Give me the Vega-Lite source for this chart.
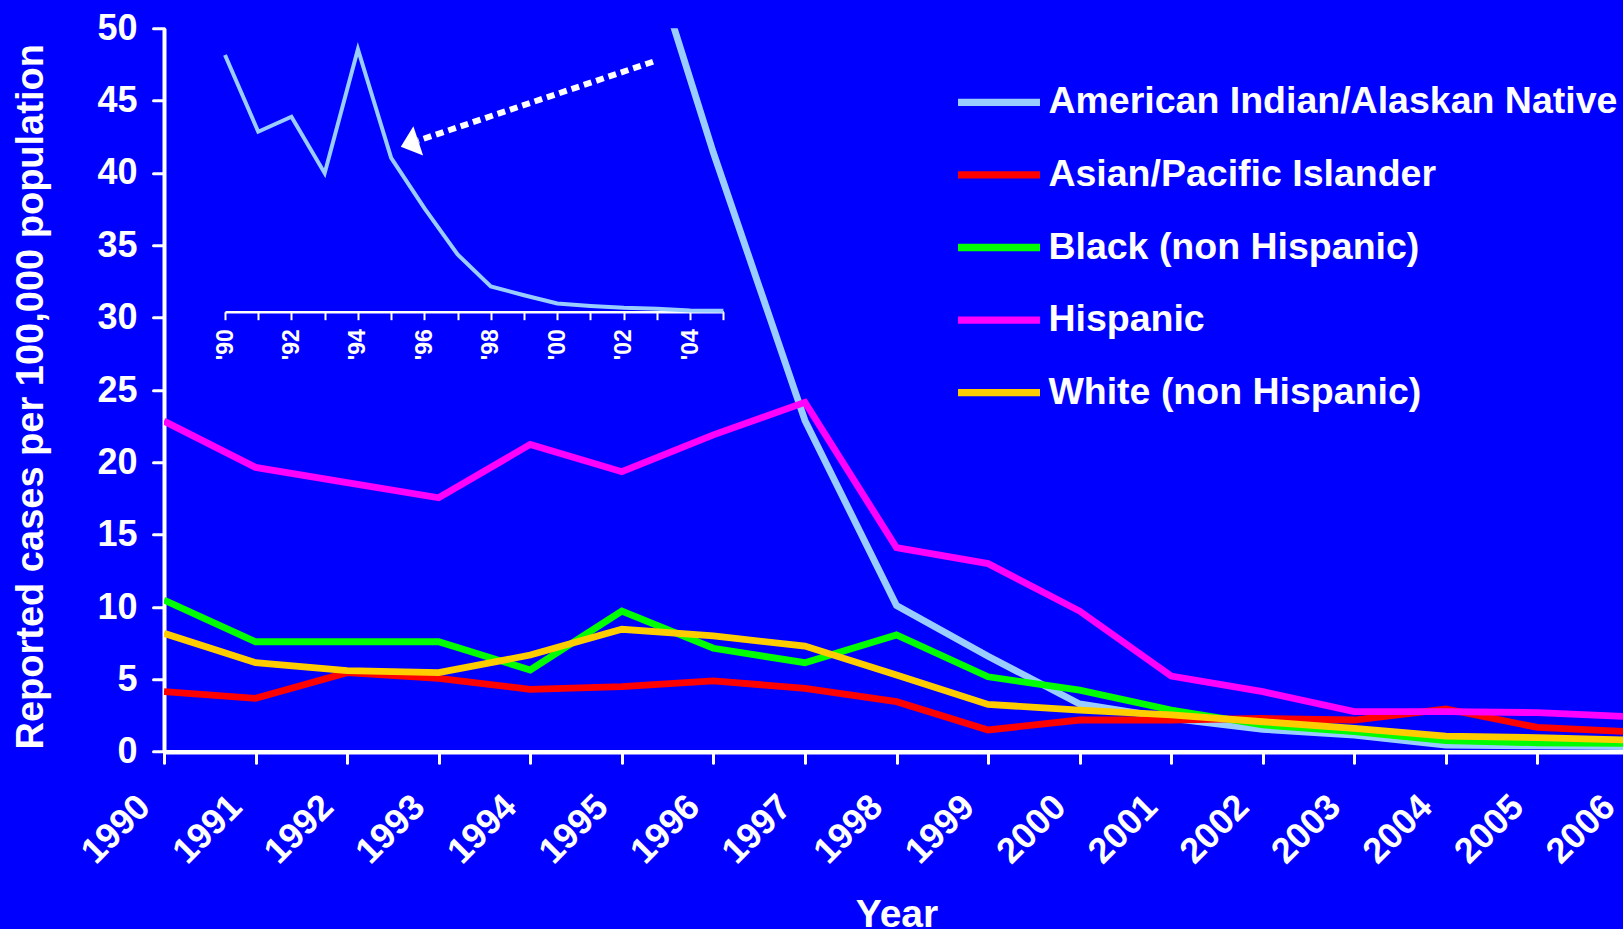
{
  "$schema": "https://vega.github.io/schema/vega-lite/v6.json",
  "width": 1459,
  "height": 723.4,
  "autosize": "none",
  "padding": {"left": 164, "top": 28.3, "right": 0, "bottom": 177.3},
  "background": "#0000FF",
  "config": {
    "view": {"stroke": null},
    "font": "Liberation Sans",
    "axis": {
      "grid": false,
      "domainColor": "white",
      "tickColor": "white",
      "labelColor": "white",
      "titleColor": "white",
      "labelFontWeight": "bold",
      "titleFontWeight": "bold",
      "labelOverlap": false,
      "labelFlush": false,
      "labelBound": false
    }
  },
  "datasets": {
    "rates": [
      {"group": "American Indian/Alaskan Native", "year": 1990, "rate": 102.7},
      {"group": "American Indian/Alaskan Native", "year": 1991, "rate": 72},
      {"group": "American Indian/Alaskan Native", "year": 1992, "rate": 78},
      {"group": "American Indian/Alaskan Native", "year": 1993, "rate": 55.4},
      {"group": "American Indian/Alaskan Native", "year": 1994, "rate": 105},
      {"group": "American Indian/Alaskan Native", "year": 1995, "rate": 61.5},
      {"group": "American Indian/Alaskan Native", "year": 1996, "rate": 41.4},
      {"group": "American Indian/Alaskan Native", "year": 1997, "rate": 22.9},
      {"group": "American Indian/Alaskan Native", "year": 1998, "rate": 10.1},
      {"group": "American Indian/Alaskan Native", "year": 1999, "rate": 6.6},
      {"group": "American Indian/Alaskan Native", "year": 2000, "rate": 3.3},
      {"group": "American Indian/Alaskan Native", "year": 2001, "rate": 2.3},
      {"group": "American Indian/Alaskan Native", "year": 2002, "rate": 1.55},
      {"group": "American Indian/Alaskan Native", "year": 2003, "rate": 1.15},
      {"group": "American Indian/Alaskan Native", "year": 2004, "rate": 0.46},
      {"group": "American Indian/Alaskan Native", "year": 2005, "rate": 0.4},
      {"group": "American Indian/Alaskan Native", "year": 2006, "rate": 0.35},
      {"group": "Asian/Pacific Islander", "year": 1990, "rate": 4.15},
      {"group": "Asian/Pacific Islander", "year": 1991, "rate": 3.69},
      {"group": "Asian/Pacific Islander", "year": 1992, "rate": 5.46},
      {"group": "Asian/Pacific Islander", "year": 1993, "rate": 5.07},
      {"group": "Asian/Pacific Islander", "year": 1994, "rate": 4.31},
      {"group": "Asian/Pacific Islander", "year": 1995, "rate": 4.5},
      {"group": "Asian/Pacific Islander", "year": 1996, "rate": 4.89},
      {"group": "Asian/Pacific Islander", "year": 1997, "rate": 4.38},
      {"group": "Asian/Pacific Islander", "year": 1998, "rate": 3.46},
      {"group": "Asian/Pacific Islander", "year": 1999, "rate": 1.5},
      {"group": "Asian/Pacific Islander", "year": 2000, "rate": 2.19},
      {"group": "Asian/Pacific Islander", "year": 2001, "rate": 2.19},
      {"group": "Asian/Pacific Islander", "year": 2002, "rate": 2.3},
      {"group": "Asian/Pacific Islander", "year": 2003, "rate": 2.19},
      {"group": "Asian/Pacific Islander", "year": 2004, "rate": 2.95},
      {"group": "Asian/Pacific Islander", "year": 2005, "rate": 1.68},
      {"group": "Asian/Pacific Islander", "year": 2006, "rate": 1.38},
      {"group": "Black (non Hispanic)", "year": 1990, "rate": 10.48},
      {"group": "Black (non Hispanic)", "year": 1991, "rate": 7.6},
      {"group": "Black (non Hispanic)", "year": 1992, "rate": 7.6},
      {"group": "Black (non Hispanic)", "year": 1993, "rate": 7.6},
      {"group": "Black (non Hispanic)", "year": 1994, "rate": 5.65},
      {"group": "Black (non Hispanic)", "year": 1995, "rate": 9.72},
      {"group": "Black (non Hispanic)", "year": 1996, "rate": 7.15},
      {"group": "Black (non Hispanic)", "year": 1997, "rate": 6.15},
      {"group": "Black (non Hispanic)", "year": 1998, "rate": 8.07},
      {"group": "Black (non Hispanic)", "year": 1999, "rate": 5.18},
      {"group": "Black (non Hispanic)", "year": 2000, "rate": 4.26},
      {"group": "Black (non Hispanic)", "year": 2001, "rate": 2.88},
      {"group": "Black (non Hispanic)", "year": 2002, "rate": 1.85},
      {"group": "Black (non Hispanic)", "year": 2003, "rate": 1.38},
      {"group": "Black (non Hispanic)", "year": 2004, "rate": 0.76},
      {"group": "Black (non Hispanic)", "year": 2005, "rate": 0.62},
      {"group": "Black (non Hispanic)", "year": 2006, "rate": 0.58},
      {"group": "Hispanic", "year": 1990, "rate": 22.85},
      {"group": "Hispanic", "year": 1991, "rate": 19.65},
      {"group": "Hispanic", "year": 1992, "rate": 18.6},
      {"group": "Hispanic", "year": 1993, "rate": 17.55},
      {"group": "Hispanic", "year": 1994, "rate": 21.24},
      {"group": "Hispanic", "year": 1995, "rate": 19.35},
      {"group": "Hispanic", "year": 1996, "rate": 21.9},
      {"group": "Hispanic", "year": 1997, "rate": 24.15},
      {"group": "Hispanic", "year": 1998, "rate": 14.1},
      {"group": "Hispanic", "year": 1999, "rate": 13.0},
      {"group": "Hispanic", "year": 2000, "rate": 9.72},
      {"group": "Hispanic", "year": 2001, "rate": 5.23},
      {"group": "Hispanic", "year": 2002, "rate": 4.15},
      {"group": "Hispanic", "year": 2003, "rate": 2.77},
      {"group": "Hispanic", "year": 2004, "rate": 2.77},
      {"group": "Hispanic", "year": 2005, "rate": 2.7},
      {"group": "Hispanic", "year": 2006, "rate": 2.42},
      {"group": "White (non Hispanic)", "year": 1990, "rate": 8.18},
      {"group": "White (non Hispanic)", "year": 1991, "rate": 6.15},
      {"group": "White (non Hispanic)", "year": 1992, "rate": 5.6},
      {"group": "White (non Hispanic)", "year": 1993, "rate": 5.46},
      {"group": "White (non Hispanic)", "year": 1994, "rate": 6.68},
      {"group": "White (non Hispanic)", "year": 1995, "rate": 8.46},
      {"group": "White (non Hispanic)", "year": 1996, "rate": 8.0},
      {"group": "White (non Hispanic)", "year": 1997, "rate": 7.3},
      {"group": "White (non Hispanic)", "year": 1998, "rate": 5.3},
      {"group": "White (non Hispanic)", "year": 1999, "rate": 3.27},
      {"group": "White (non Hispanic)", "year": 2000, "rate": 2.88},
      {"group": "White (non Hispanic)", "year": 2001, "rate": 2.54},
      {"group": "White (non Hispanic)", "year": 2002, "rate": 2.07},
      {"group": "White (non Hispanic)", "year": 2003, "rate": 1.61},
      {"group": "White (non Hispanic)", "year": 2004, "rate": 1.08},
      {"group": "White (non Hispanic)", "year": 2005, "rate": 0.97},
      {"group": "White (non Hispanic)", "year": 2006, "rate": 0.81}
    ],
    "arrowShaft": [
      {"year": 1995.341, "rate": 47.69, "year2": 1992.776, "rate2": 42.24}
    ],
    "arrowHead": [
      {"year": 1992.745, "rate": 42.155}
    ]
  },
  "layer": [
    {
      "layer": [
        {
          "data": {"name": "rates"},
          "mark": {"type": "line", "strokeWidth": 6.8, "clip": true},
          "encoding": {
            "x": {
              "field": "year",
              "type": "quantitative",
              "scale": {"domain": [1990, 2006], "range": [0, 1465], "nice": false, "zero": false},
              "axis": {
                "values": [1990, 1991, 1992, 1993, 1994, 1995, 1996, 1997, 1998, 1999, 2000, 2001, 2002, 2003, 2004, 2005, 2006],
                "format": "d",
                "labelAngle": -45,
                "labelAlign": "right",
                "labelBaseline": "middle",
                "labelFontSize": 36,
                "labelPadding": 38,
                "labelOffset": -20,
                "tickSize": 11,
                "tickWidth": 3,
                "tickCap": "round",
                "domainWidth": 4.5,
                "title": "Year",
                "titleFontSize": 39,
                "titleBaseline": "alphabetic",
                "titleY": 175
              }
            },
            "y": {
              "field": "rate",
              "type": "quantitative",
              "scale": {"domain": [0, 50], "nice": false, "zero": true},
              "axis": {
                "values": [0, 5, 10, 15, 20, 25, 30, 35, 40, 45, 50],
                "labelFontSize": 36,
                "labelPadding": 16,
                "tickSize": 11,
                "tickWidth": 3,
                "tickCap": "round",
                "domainWidth": 4,
                "title": "Reported cases per 100,000 population",
                "titleFontSize": 38,
                "titleAngle": -90,
                "titleBaseline": "alphabetic",
                "titleX": -122,
                "titleY": 368
              }
            },
            "color": {
              "field": "group",
              "type": "nominal",
              "scale": {
                "domain": ["American Indian/Alaskan Native", "Asian/Pacific Islander", "Black (non Hispanic)", "Hispanic", "White (non Hispanic)"],
                "range": ["#99CCFF", "#FF0000", "#00FF00", "#FF00FF", "#FFCC00"]
              },
              "legend": {
                "orient": "none",
                "legendX": 790,
                "legendY": 29,
                "title": null,
                "padding": 0,
                "symbolType": "stroke",
                "symbolSize": 6724,
                "symbolStrokeWidth": 7.3,
                "labelFontSize": 37.5,
                "labelFontWeight": "bold",
                "labelColor": "white",
                "labelOffset": 4.4,
                "labelLimit": 1000,
                "rowPadding": 8.6
              }
            }
          }
        },
        {
          "data": {"name": "arrowShaft"},
          "mark": {"type": "rule", "color": "white", "strokeWidth": 6, "strokeDash": [8, 5], "strokeCap": "butt"},
          "encoding": {
            "x": {"field": "year", "type": "quantitative"},
            "y": {"field": "rate", "type": "quantitative"},
            "x2": {"field": "year2"},
            "y2": {"field": "rate2"}
          }
        },
        {
          "data": {"name": "arrowHead"},
          "mark": {"type": "point", "shape": "M-1,0L0.2,-1L0.2,1Z", "filled": true, "color": "white", "opacity": 1, "size": 942, "angle": 341.5},
          "encoding": {
            "x": {"field": "year", "type": "quantitative"},
            "y": {"field": "rate", "type": "quantitative"}
          }
        }
      ]
    },
    {
      "data": {"name": "rates"},
      "transform": [
        {"filter": "datum.group === 'American Indian/Alaskan Native' && datum.year <= 2005"}
      ],
      "mark": {"type": "line", "color": "#99CCFF", "strokeWidth": 4},
      "encoding": {
        "x": {
          "field": "year",
          "type": "quantitative",
          "scale": {"domain": [1990, 2005], "range": [61, 559.4], "nice": false, "zero": false},
          "axis": {
            "orient": "bottom",
            "offset": -440,
            "values": [1990, 1991, 1992, 1993, 1994, 1995, 1996, 1997, 1998, 1999, 2000, 2001, 2002, 2003, 2004, 2005],
            "labelExpr": "datum.value % 2 === 0 ? \"'\" + slice(format(datum.value, 'd'), 2) : ''",
            "labelAngle": -90,
            "labelAlign": "right",
            "labelBaseline": "middle",
            "labelFontSize": 23,
            "labelPadding": 9,
            "tickSize": 8,
            "tickWidth": 2,
            "domainWidth": 2.5,
            "title": null
          }
        },
        "y": {
          "field": "rate",
          "type": "quantitative",
          "scale": {"domain": [0, 100], "range": [283.4, 33.4], "nice": false, "zero": true},
          "axis": null
        }
      }
    }
  ],
  "resolve": {
    "scale": {"x": "independent", "y": "independent"},
    "axis": {"x": "independent", "y": "independent"}
  }
}
